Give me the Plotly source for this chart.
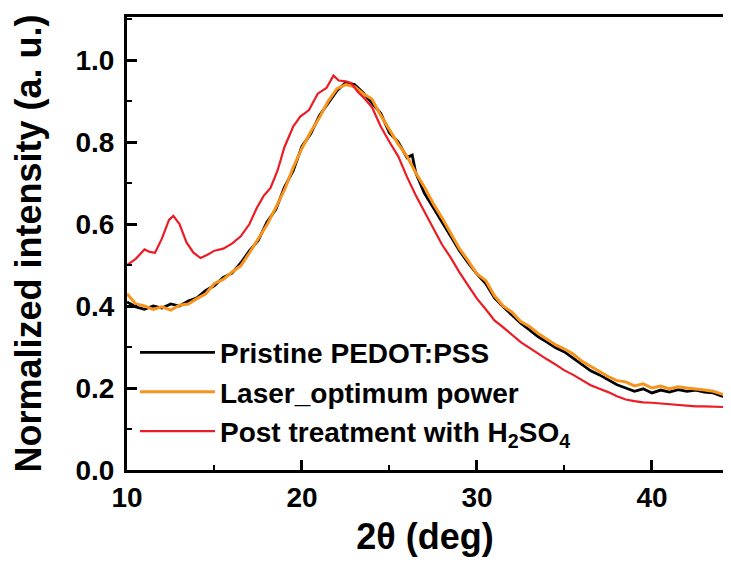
import plotly.graph_objects as go

# ---- data ----
pristine_x = [10.0, 10.5, 11.0, 11.5, 12.0, 12.5, 13.0, 13.5, 14.0, 14.5, 15.0, 15.5, 16.0, 16.5,
              17.0, 17.5, 18.0, 18.5, 19.0, 19.5, 20.0, 20.5, 21.0, 21.5, 22.0, 22.5, 23.0, 23.5,
              24.0, 24.5, 25.0, 25.5, 26.0, 26.3, 26.5, 27.0, 27.5, 28.0, 28.5, 29.0, 29.5, 30.0,
              30.5, 31.0, 31.5, 32.0, 32.5, 33.0, 33.5, 34.0, 34.5, 35.0, 35.5, 36.0, 36.5, 37.0,
              37.5, 38.0, 38.5, 39.0, 39.5, 40.0, 40.5, 41.0, 41.5, 42.0, 42.5, 43.0, 43.5, 44.0, 44.6]
pristine_y = [0.410, 0.398, 0.392, 0.400, 0.395, 0.405, 0.400, 0.412, 0.420, 0.438, 0.450, 0.470, 0.480, 0.505,
              0.535, 0.560, 0.605, 0.635, 0.690, 0.730, 0.790, 0.820, 0.865, 0.895, 0.925, 0.945, 0.940, 0.920,
              0.895, 0.870, 0.822, 0.800, 0.762, 0.768, 0.725, 0.675, 0.640, 0.605, 0.570, 0.535, 0.505, 0.478,
              0.455, 0.420, 0.398, 0.378, 0.358, 0.342, 0.325, 0.312, 0.298, 0.288, 0.272, 0.258, 0.242, 0.232,
              0.220, 0.208, 0.200, 0.192, 0.198, 0.188, 0.195, 0.190, 0.196, 0.192, 0.195, 0.190, 0.188, 0.180, 0.178]

laser_x = [10.0, 10.5, 11.0, 11.5, 12.0, 12.5, 13.0, 13.5, 14.0, 14.5, 15.0, 15.5, 16.0, 16.5,
           17.0, 17.5, 18.0, 18.5, 19.0, 19.5, 20.0, 20.5, 21.0, 21.5, 22.0, 22.5, 23.0, 23.5,
           24.0, 24.5, 25.0, 25.5, 26.0, 26.5, 27.0, 27.5, 28.0, 28.5, 29.0, 29.5, 30.0,
           30.5, 31.0, 31.5, 32.0, 32.5, 33.0, 33.5, 34.0, 34.5, 35.0, 35.5, 36.0, 36.5, 37.0,
           37.5, 38.0, 38.5, 39.0, 39.5, 40.0, 40.5, 41.0, 41.5, 42.0, 42.5, 43.0, 43.5, 44.0, 44.6]
laser_y = [0.430, 0.405, 0.400, 0.392, 0.398, 0.390, 0.402, 0.405, 0.418, 0.430, 0.455, 0.465, 0.483, 0.498,
           0.530, 0.565, 0.598, 0.640, 0.683, 0.738, 0.785, 0.825, 0.860, 0.900, 0.930, 0.940, 0.935, 0.918,
           0.905, 0.865, 0.830, 0.795, 0.765, 0.725, 0.690, 0.650, 0.615, 0.578, 0.540, 0.510, 0.478,
           0.462, 0.425, 0.400, 0.385, 0.362, 0.350, 0.333, 0.318, 0.305, 0.295, 0.283, 0.265, 0.252, 0.240,
           0.228, 0.218, 0.215, 0.205, 0.210, 0.200, 0.205, 0.198, 0.203, 0.200, 0.198, 0.195, 0.192, 0.185, 0.180]

acid_x = [10.0, 10.5, 11.0, 11.3, 11.6, 12.0, 12.4, 12.65, 13.0, 13.4, 13.8, 14.2, 14.6, 15.0, 15.5,
          16.0, 16.5, 17.0, 17.4, 17.8, 18.2, 18.6, 19.0, 19.5, 19.9, 20.4, 20.9, 21.4, 21.8, 22.1,
          22.5, 22.8, 23.2, 23.6, 24.0, 24.5, 25.0, 25.5, 26.0, 26.5, 27.0, 27.5, 28.0, 28.5, 29.0,
          29.5, 30.0, 30.5, 31.0, 31.5, 32.0, 32.5, 33.0, 33.5, 34.0, 34.5, 35.0, 35.5, 36.0, 36.5,
          37.0, 37.5, 38.0, 38.5, 39.0, 39.5, 40.0, 40.5, 41.0, 41.5, 42.0, 42.5, 43.0, 43.5, 44.0, 44.6]
acid_y = [0.500, 0.515, 0.538, 0.532, 0.530, 0.565, 0.610, 0.620, 0.600, 0.555, 0.530, 0.517, 0.525, 0.535, 0.540,
          0.552, 0.570, 0.600, 0.638, 0.668, 0.688, 0.730, 0.788, 0.838, 0.862, 0.878, 0.918, 0.932, 0.962, 0.950,
          0.948, 0.944, 0.922, 0.905, 0.885, 0.838, 0.800, 0.765, 0.715, 0.670, 0.630, 0.590, 0.550, 0.518, 0.482,
          0.450, 0.418, 0.392, 0.365, 0.348, 0.330, 0.312, 0.298, 0.283, 0.270, 0.257, 0.243, 0.232, 0.220, 0.207,
          0.198, 0.190, 0.180, 0.172, 0.168, 0.165, 0.164, 0.162, 0.160, 0.158, 0.157, 0.155, 0.155, 0.154, 0.153, 0.153]

names = ["Pristine PEDOT:PSS", "Laser_optimum power", "Post treatment with H<sub>2</sub>SO<sub>4</sub>"]

FONT = "Liberation Sans, Arial, sans-serif"

fig = go.Figure()
fig.add_trace(go.Scatter(x=pristine_x, y=pristine_y, mode="lines", name=names[0],
                         line=dict(color="#000000", width=2.8)))
fig.add_trace(go.Scatter(x=laser_x, y=laser_y, mode="lines", name=names[1],
                         line=dict(color="#F7941D", width=3)))
fig.add_trace(go.Scatter(x=acid_x, y=acid_y, mode="lines", name=names[2],
                         line=dict(color="#EC1C24", width=2.2)))

fig.update_layout(
    width=715, height=549,
    margin=dict(l=119, r=0, t=9, b=87),
    paper_bgcolor="white", plot_bgcolor="white",
    font=dict(family=FONT, color="black"),
    showlegend=True,
    legend=dict(x=0.0134, y=0.3144, xanchor="left", yanchor="top",
                bgcolor="rgba(0,0,0,0)", itemwidth=75, tracegroupgap=0,
                font=dict(family=FONT, size=28, color="black", weight="bold")),
    xaxis=dict(range=[10, 44.06], showgrid=False, zeroline=False,
               showline=True, linecolor="black", linewidth=3, mirror=True,
               ticks="inside", ticklen=10, tickwidth=2.5, tickcolor="black",
               dtick=10, tick0=10,
               minor=dict(ticks="inside", ticklen=5, tickwidth=2, dtick=5, tickcolor="black"),
               tickfont=dict(family=FONT, size=28, color="black", weight="bold"),
               title=dict(text="2θ (deg)", font=dict(family=FONT, size=36, color="black", weight="bold"),
                          standoff=14)),
    yaxis=dict(range=[0, 1.105], showgrid=False, zeroline=False,
               showline=True, linecolor="black", linewidth=3, mirror=False,
               ticks="inside", ticklen=10, tickwidth=2.5, tickcolor="black",
               dtick=0.2, tick0=0, tickformat=".1f", ticklabelstandoff=4,
               minor=dict(ticks="inside", ticklen=5, tickwidth=2, dtick=0.1, tickcolor="black"),
               tickfont=dict(family=FONT, size=28, color="black", weight="bold"),
               title=dict(text="Normalized intensity (a. u.)",
                          font=dict(family=FONT, size=36, color="black", weight="bold"),
                          standoff=24)),
)

fig.write_html("out.html")
